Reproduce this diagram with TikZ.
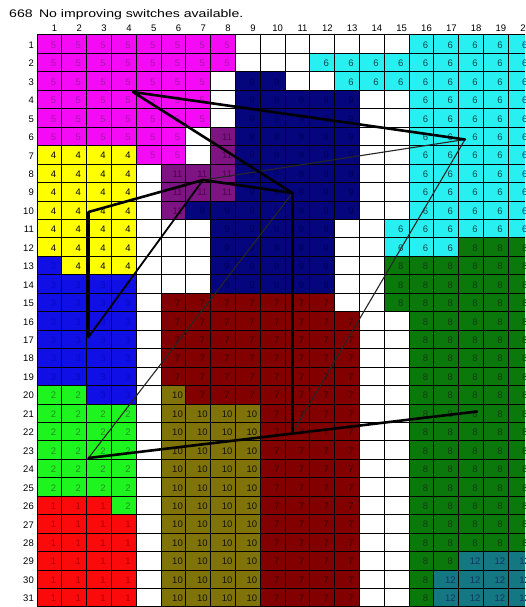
\documentclass[tikz,border=0pt]{standalone}
\usepackage{fontspec}
\setmainfont{Liberation Sans}
\usepackage{graphicx}
\definecolor{c0}{RGB}{255,255,255}
\definecolor{c1}{RGB}{250,10,10}
\definecolor{c2}{RGB}{30,245,30}
\definecolor{c3}{RGB}{15,15,230}
\definecolor{c4}{RGB}{255,255,0}
\definecolor{c5}{RGB}{245,10,245}
\definecolor{c6}{RGB}{40,240,240}
\definecolor{c7}{RGB}{130,0,0}
\definecolor{c8}{RGB}{10,120,10}
\definecolor{c9}{RGB}{5,5,125}
\definecolor{c10}{RGB}{128,115,10}
\definecolor{c11}{RGB}{125,20,130}
\definecolor{c12}{RGB}{20,120,130}
\definecolor{t0}{RGB}{0,0,0}
\definecolor{t1}{RGB}{170,0,0}
\definecolor{t2}{RGB}{40,140,40}
\definecolor{t3}{RGB}{10,10,190}
\definecolor{t4}{RGB}{0,0,0}
\definecolor{t5}{RGB}{165,25,165}
\definecolor{t6}{RGB}{20,70,80}
\definecolor{t7}{RGB}{60,0,0}
\definecolor{t8}{RGB}{20,60,20}
\definecolor{t9}{RGB}{0,0,90}
\definecolor{t10}{RGB}{20,20,0}
\definecolor{t11}{RGB}{80,0,80}
\definecolor{t12}{RGB}{20,50,100}
\begin{document}
\begin{tikzpicture}[x=1pt,y=-1pt,
  gridline/.style={draw=black,line width=1pt},
  cellnum/.style={font=\fontsize{9.5}{9.5}\selectfont,inner sep=0pt},
  headnum/.style={font=\fontsize{9.5}{9.5}\selectfont,inner sep=0pt},
  thickline/.style={draw=black,line width=2.6pt,line cap=round,line join=round},
  medline/.style={draw=black,line width=1.8pt,line cap=round},
  thinline/.style={draw=black!85,line width=1.1pt,line cap=round}]
\useasboundingbox (0,0) rectangle (525,607);
\clip (0,0) rectangle (525,607);
\fill[white] (0,0) rectangle (525,607);
\foreach \rowdata [count=\r] in {
{5,5,5,5,5,5,5,5,0,0,0,0,0,0,0,6,6,6,6,6},
{5,5,5,5,5,5,5,5,0,0,0,6,6,6,6,6,6,6,6,6},
{5,5,5,5,5,5,5,0,9,9,0,0,6,6,6,6,6,6,6,6},
{5,5,5,5,5,5,5,0,9,9,9,9,9,0,0,6,6,6,6,6},
{5,5,5,5,5,5,5,0,9,9,9,9,9,0,0,6,6,6,6,6},
{5,5,5,5,5,5,0,11,9,9,9,9,9,0,0,6,6,6,6,6},
{4,4,4,4,5,5,0,11,9,9,9,9,9,0,0,6,6,6,6,6},
{4,4,4,4,0,11,11,11,9,9,9,9,9,0,0,6,6,6,6,6},
{4,4,4,4,0,11,11,11,9,9,9,9,9,0,0,6,6,6,6,6},
{4,4,4,4,0,11,9,9,9,9,9,9,9,0,0,6,6,6,6,6},
{4,4,4,4,0,0,0,9,9,9,9,9,0,0,6,6,6,6,6,6},
{4,4,4,4,0,0,0,9,9,9,9,9,0,0,6,6,6,8,8,8},
{3,4,4,4,0,0,0,9,9,9,9,9,0,0,8,8,8,8,8,8},
{3,3,3,3,0,0,0,9,9,9,9,9,0,0,8,8,8,8,8,8},
{3,3,3,3,0,7,7,7,7,7,7,7,0,0,8,8,8,8,8,8},
{3,3,3,3,0,7,7,7,7,7,7,7,7,0,0,8,8,8,8,8},
{3,3,3,3,0,7,7,7,7,7,7,7,7,0,0,8,8,8,8,8},
{3,3,3,3,0,7,7,7,7,7,7,7,7,0,0,8,8,8,8,8},
{3,3,3,3,0,7,7,7,7,7,7,7,7,0,0,8,8,8,8,8},
{2,2,3,3,0,10,7,7,7,7,7,7,7,0,0,8,8,8,8,8},
{2,2,2,2,0,10,10,10,10,7,7,7,7,0,0,8,8,8,8,8},
{2,2,2,2,0,10,10,10,10,7,7,7,7,0,0,8,8,8,8,8},
{2,2,2,2,0,10,10,10,10,7,7,7,7,0,0,8,8,8,8,8},
{2,2,2,2,0,10,10,10,10,7,7,7,7,0,0,8,8,8,8,8},
{2,2,2,2,0,10,10,10,10,7,7,7,7,0,0,8,8,8,8,8},
{1,1,1,2,0,10,10,10,10,7,7,7,7,0,0,8,8,8,8,8},
{1,1,1,1,0,10,10,10,10,7,7,7,7,0,0,8,8,8,8,8},
{1,1,1,1,0,10,10,10,10,7,7,7,7,0,0,8,8,8,8,8},
{1,1,1,1,0,10,10,10,10,7,7,7,7,0,0,8,8,12,12,12},
{1,1,1,1,0,10,10,10,10,7,7,7,7,0,0,8,12,12,12,12},
{1,1,1,1,0,10,10,10,10,7,7,7,7,0,0,8,12,12,12,12}} {
  \foreach \v [count=\c] in \rowdata {
    \pgfmathsetmacro\xl{37+24.8*(\c-1)}
    \pgfmathsetmacro\yt{35+18.45*(\r-1)}
    \fill[c\v] (\xl,\yt) rectangle ++(24.8,18.45);
    \ifnum\v>0
      \node[cellnum,text=t\v] (n-\r-\c) at (\xl+16.5,\yt+10) {\v};
    \fi
  }
}
\foreach \c in {0,...,20} \draw[gridline] (37+24.8*\c,35) -- (37+24.8*\c,607);
\foreach \r in {0,...,31} \draw[gridline] (37,35+18.45*\r) -- (540,35+18.45*\r);
\foreach \c in {1,...,20} \node[headnum] (h\c) at (37+24.8*\c-7.3,28.5) {\c};
\foreach \r in {1,...,31} \node[headnum,anchor=east] (r\r) at (34,35+18.45*\r-8.4) {\r};
\node[anchor=west,inner sep=0pt,font=\fontsize{11}{11}\selectfont] (title) at (9,15)
  {\scalebox{1.28}[1]{668\hspace{5pt}No improving switches available.}};
\coordinate (V1) at (133,92);
\coordinate (VA) at (465,139.5);
\coordinate (VB) at (292.5,193);
\coordinate (VC) at (203,180);
\coordinate (VD) at (88.5,212);
\coordinate (VE) at (88.5,337);
\coordinate (VF) at (88.5,458);
\coordinate (VG) at (292.5,433);
\coordinate (VH) at (477,411.5);
\draw[thinline] (VC) -- (VA) -- (VG);
\draw[thinline] (VF) -- (VB);
\draw[medline] (VE) -- (VC);
\draw[thickline] (VA) -- (V1) -- (VB) -- (VC) -- (VD) -- (VE);
\draw[thickline] (VB) -- (VG);
\draw[thickline] (VF) -- (VH);
\end{tikzpicture}
\end{document}
